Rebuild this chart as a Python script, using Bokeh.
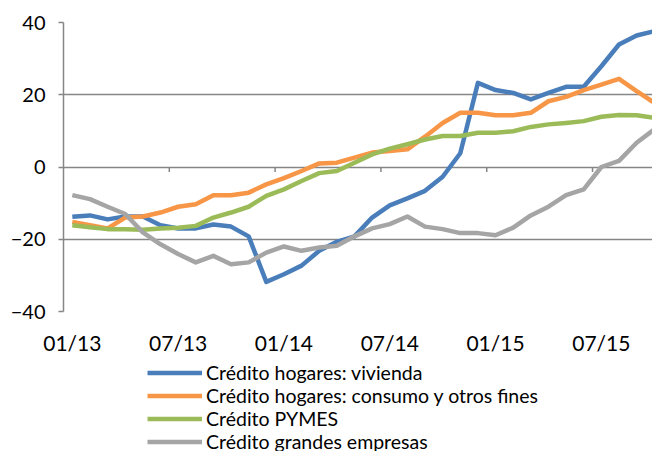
from bokeh.plotting import figure
from bokeh.models import Range1d, FixedTicker, Legend, LegendItem
from bokeh.layouts import column
from bokeh.embed import file_html
from bokeh.resources import INLINE

# Monthly data, 01/13 .. 10/15
months = [f"{m:02d}/{y}" for y in (13, 14, 15) for m in range(1, 13)][:34]

vivienda = [-13.8, -13.4, -14.5, -13.7, -13.7, -16.1, -17.0, -17.0, -15.9, -16.5,
            -19.2, -31.8, -29.7, -27.3, -23.2, -20.7, -19.2, -14.0, -10.6, -8.7,
            -6.6, -2.7, 3.8, 23.3, 21.3, 20.5, 18.7, 20.5, 22.2, 22.2,
            27.9, 33.9, 36.4, 37.6]
consumo = [-15.2, -16.1, -17.0, -14.0, -13.7, -12.6, -11.0, -10.3, -7.8, -7.8,
           -7.1, -4.8, -3.1, -1.1, 1.0, 1.2, 2.6, 4.0, 4.4, 4.9,
           8.4, 12.2, 15.0, 15.0, 14.3, 14.3, 15.0, 18.2, 19.4, 21.3,
           22.8, 24.4, 21.0, 17.8]
pymes = [-16.1, -16.7, -17.2, -17.2, -17.4, -17.0, -16.8, -16.3, -14.0, -12.6,
         -11.0, -8.0, -6.2, -3.9, -1.7, -1.1, 1.2, 3.5, 5.1, 6.3,
         7.6, 8.6, 8.6, 9.5, 9.5, 9.9, 11.1, 11.8, 12.2, 12.7,
         13.9, 14.4, 14.3, 13.6]
grandes = [-7.8, -8.9, -11.0, -13.0, -18.1, -21.4, -24.1, -26.4, -24.6, -26.9,
           -26.4, -23.7, -22.0, -23.2, -22.3, -21.8, -19.2, -17.0, -15.8, -13.7,
           -16.5, -17.2, -18.3, -18.3, -18.9, -16.8, -13.4, -11.0, -7.8, -6.2,
           0.0, 1.7, 6.7, 10.4]

series_names = ["Crédito hogares: vivienda",
                "Crédito hogares: consumo y otros fines",
                "Crédito PYMES",
                "Crédito grandes empresas"]
series_values = [vivienda, consumo, pymes, grandes]
colors = ["#4A7EBB", "#F79646", "#9BBB59", "#A5A5A5"]

tick_labels = ["01/13", "07/13", "01/14", "07/14", "01/15", "07/15"]
y_ticks = [-40, -20, 0, 20, 40]

x = list(range(len(months)))
label_idx = [months.index(t) for t in tick_labels]

FONT = "Lato"
GRID = "#868686"

p = figure(width=652, height=361, output_backend="svg", toolbar_location=None,
           x_range=Range1d(-0.5, 32.9), y_range=Range1d(y_ticks[0], y_ticks[-1]),
           min_border_left=63, min_border_right=0, min_border_top=22,
           min_border_bottom=50)
p.outline_line_color = None
p.background_fill_color = "white"
p.border_fill_color = "white"

# y axis
p.yaxis.ticker = FixedTicker(ticks=y_ticks)
p.yaxis.axis_line_color = GRID
p.yaxis.axis_line_width = 1.5
p.yaxis.major_tick_line_color = GRID
p.yaxis.major_tick_line_width = 1.5
p.yaxis.major_tick_out = 5
p.yaxis.major_tick_in = 0
p.yaxis.minor_tick_line_color = None
p.yaxis.major_label_standoff = 13
p.yaxis.major_label_text_font = FONT
p.yaxis.major_label_text_font_size = "20px"
p.yaxis.major_label_text_color = "black"

# x axis: labels at the bottom, tick marks on the zero line drawn separately
p.xaxis.ticker = FixedTicker(ticks=label_idx)
p.xaxis.major_label_overrides = {i: t for i, t in zip(label_idx, tick_labels)}
p.xaxis.axis_line_color = None
p.xaxis.major_tick_line_color = None
p.xaxis.minor_tick_line_color = None
p.xaxis.major_label_standoff = 12
p.xaxis.major_label_text_font = FONT
p.xaxis.major_label_text_font_size = "21px"
p.xaxis.major_label_text_color = "black"

p.xgrid.grid_line_color = None
p.ygrid.ticker = FixedTicker(ticks=y_ticks)
p.ygrid.grid_line_color = GRID
p.ygrid.grid_line_width = 1.5

bounds = [i - 0.5 for i in label_idx[1:]] + [label_idx[-1] + 5.5]
p.segment(x0=bounds, y0=[0] * len(bounds), x1=bounds, y1=[-1.4] * len(bounds),
          line_color=GRID, line_width=1.5)

for vals, c in zip(series_values, colors):
    p.line(x, vals, line_color=c, line_width=4.5, line_join="round")

# legend panel below the chart (its renderers sit outside its visible range)
lg = figure(width=652, height=90, output_backend="svg", toolbar_location=None,
            x_axis_location=None, y_axis_location=None,
            x_range=Range1d(1000, 1001), y_range=Range1d(1000, 1001),
            min_border_left=63, min_border_right=0, min_border_top=0,
            min_border_bottom=0)
lg.outline_line_color = None
lg.grid.grid_line_color = None
lg.border_fill_color = "white"

items = []
for name, vals, c in zip(series_names, series_values, colors):
    r = lg.line(x, vals, line_color=c, line_width=4.5)
    items.append(LegendItem(label=name, renderers=[r]))

legend = Legend(items=items, location=(84, -2), orientation="vertical",
                padding=0, margin=0, spacing=-1, glyph_width=55, glyph_height=23,
                label_height=23, label_standoff=4,
                label_text_font=FONT, label_text_font_size="19.5px",
                label_text_color="black",
                border_line_color=None, background_fill_alpha=0)
lg.add_layout(legend, "center")

layout = column(p, lg, spacing=0)
open("out.html", "w").write(file_html(layout, INLINE))
